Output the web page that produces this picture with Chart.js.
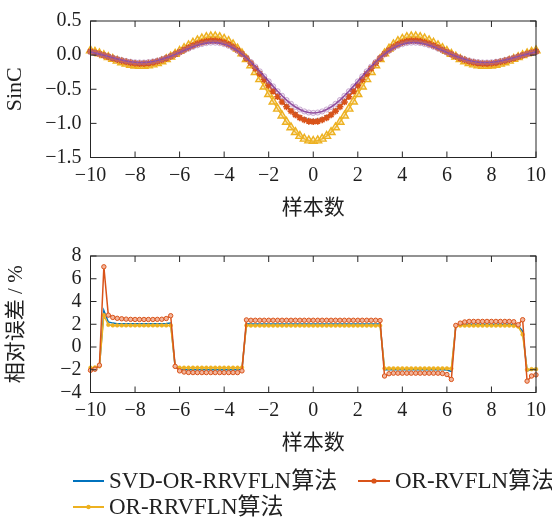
<!DOCTYPE html>
<html><head><meta charset="utf-8">
<script src="https://cdn.jsdelivr.net/npm/chart.js@4/dist/chart.umd.min.js"></script>
<style>
body{margin:0;background:#fff}
#wrap{position:relative;width:552px;height:519px;background:#fff;overflow:hidden}
canvas{position:absolute;left:0}
.lg{position:absolute;display:flex;align-items:center;white-space:nowrap;font-family:"Liberation Serif","Noto Sans CJK SC",serif;font-size:23px;line-height:26px;color:#222}
.lg svg{flex:none}
</style></head><body>
<div id="wrap">
<canvas id="c1" width="552" height="235" style="top:0"></canvas>
<canvas id="c2" width="552" height="235" style="top:235px"></canvas>
<div class="lg" style="left:73px;top:468px"><svg width="31" height="12"><line x1="0" y1="6" x2="31" y2="6" stroke="#0072BD" stroke-width="2"/></svg><span style="margin-left:5px">SVD-OR-RRVFLN算法</span></div>
<div class="lg" style="left:358px;top:468px"><svg width="32" height="12"><line x1="0" y1="6" x2="32" y2="6" stroke="#D95319" stroke-width="2"/><circle cx="16" cy="6" r="2.6" fill="#D95319"/></svg><span style="margin-left:5px">OR-RVFLN算法</span></div>
<div class="lg" style="left:73px;top:494px"><svg width="31" height="12"><line x1="0" y1="6" x2="31" y2="6" stroke="#EDB120" stroke-width="2"/><circle cx="15.5" cy="6" r="2.2" fill="#EDB120"/></svg><span style="margin-left:5px">OR-RRVFLN算法</span></div>
</div>
<script>
// sample positions
const xs = [-10,-9.8,-9.6,-9.4,-9.2,-9,-8.8,-8.6,-8.4,-8.2,-8,-7.8,-7.6,-7.4,-7.2,-7,-6.8,-6.6,-6.4,-6.2,
-6,-5.8,-5.6,-5.4,-5.2,-5,-4.8,-4.6,-4.4,-4.2,-4,-3.8,-3.6,-3.4,-3.2,-3,-2.8,-2.6,-2.4,-2.2,
-2,-1.8,-1.6,-1.4,-1.2,-1,-0.8,-0.6,-0.4,-0.2,0,0.2,0.4,0.6,0.8,1,1.2,1.4,1.6,1.8,
2,2.2,2.4,2.6,2.8,3,3.2,3.4,3.6,3.8,4,4.2,4.4,4.6,4.8,5,5.2,5.4,5.6,5.8,
6,6.2,6.4,6.6,6.8,7,7.2,7.4,7.6,7.8,8,8.2,8.4,8.6,8.8,9,9.2,9.4,9.6,9.8,10];

const xTickVals = [-10,-8,-6,-4,-2,0,2,4,6,8,10];
const sincTicks = [-1.5,-1.0,-0.5,0.0,0.5];
const errTicks = [-4,-2,0,2,4,6,8];

// top panel: SinC curves
const sincTrue = [0.046,0.032,0.015,-0.002,-0.021,-0.039,-0.056,-0.072,-0.086,-0.097,
-0.105,-0.108,-0.108,-0.103,-0.093,-0.079,-0.062,-0.040,-0.015,0.011,
0.039,0.068,0.095,0.121,0.144,0.162,0.176,0.183,0.183,0.176,
0.160,0.136,0.104,0.064,0.015,-0.040,-0.101,-0.168,-0.238,-0.311,
-0.385,-0.458,-0.529,-0.596,-0.658,-0.713,-0.760,-0.797,-0.825,-0.841,
-0.847,
-0.841,-0.825,-0.797,-0.760,-0.713,-0.658,-0.596,-0.529,-0.458,-0.385,
-0.311,-0.238,-0.168,-0.101,-0.040,0.015,0.064,0.104,0.136,0.160,
0.176,0.183,0.183,0.176,0.162,0.144,0.121,0.095,0.068,0.039,
0.011,-0.015,-0.040,-0.062,-0.079,-0.093,-0.103,-0.108,-0.108,-0.105,
-0.097,-0.086,-0.072,-0.056,-0.039,-0.021,-0.002,0.015,0.032,0.046];

const sincSVD = [0.052,0.036,0.017,-0.003,-0.023,-0.044,-0.063,-0.082,-0.097,-0.110,
-0.118,-0.122,-0.122,-0.116,-0.105,-0.090,-0.069,-0.045,-0.017,0.013,
0.044,0.076,0.108,0.137,0.162,0.183,0.198,0.206,0.207,0.198,
0.181,0.154,0.117,0.072,0.017,-0.045,-0.114,-0.189,-0.269,-0.351,
-0.434,-0.517,-0.597,-0.672,-0.742,-0.804,-0.856,-0.899,-0.930,-0.949,
-0.955,
-0.949,-0.930,-0.899,-0.856,-0.804,-0.742,-0.672,-0.597,-0.517,-0.434,
-0.351,-0.269,-0.189,-0.114,-0.045,0.017,0.072,0.117,0.154,0.181,
0.198,0.207,0.206,0.198,0.183,0.162,0.137,0.108,0.076,0.044,
0.013,-0.017,-0.045,-0.069,-0.090,-0.105,-0.116,-0.122,-0.122,-0.118,
-0.110,-0.097,-0.082,-0.063,-0.044,-0.023,-0.003,0.017,0.036,0.052];

const sincOR = [0.053,0.036,0.018,-0.003,-0.024,-0.045,-0.065,-0.083,-0.099,-0.112,
-0.121,-0.125,-0.124,-0.118,-0.107,-0.092,-0.071,-0.046,-0.018,0.013,
0.045,0.078,0.110,0.140,0.166,0.187,0.202,0.211,0.211,0.202,
0.184,0.157,0.120,0.073,0.018,-0.046,-0.117,-0.193,-0.274,-0.358,
-0.443,-0.528,-0.609,-0.686,-0.757,-0.820,-0.874,-0.918,-0.949,-0.969,
-0.975,
-0.969,-0.949,-0.918,-0.874,-0.820,-0.757,-0.686,-0.609,-0.528,-0.443,
-0.358,-0.274,-0.193,-0.117,-0.046,0.018,0.073,0.120,0.157,0.184,
0.202,0.211,0.211,0.202,0.187,0.166,0.140,0.110,0.078,0.045,
0.013,-0.018,-0.046,-0.071,-0.092,-0.107,-0.118,-0.124,-0.125,-0.121,
-0.112,-0.099,-0.083,-0.065,-0.045,-0.024,-0.003,0.018,0.036,0.053];

const sincORR = [0.069,0.047,0.023,-0.003,-0.031,-0.058,-0.084,-0.108,-0.128,-0.145,
-0.156,-0.161,-0.160,-0.153,-0.139,-0.118,-0.092,-0.059,-0.023,0.017,
0.059,0.101,0.142,0.180,0.214,0.242,0.261,0.272,0.272,0.261,
0.238,0.203,0.155,0.095,0.023,-0.059,-0.151,-0.250,-0.355,-0.463,
-0.573,-0.682,-0.787,-0.887,-0.979,-1.060,-1.130,-1.186,-1.227,-1.252,
-1.260,
-1.252,-1.227,-1.186,-1.130,-1.060,-0.979,-0.887,-0.787,-0.682,-0.573,
-0.463,-0.355,-0.250,-0.151,-0.059,0.023,0.095,0.155,0.203,0.238,
0.261,0.272,0.272,0.261,0.242,0.214,0.180,0.142,0.101,0.059,
0.017,-0.023,-0.059,-0.092,-0.118,-0.139,-0.153,-0.160,-0.161,-0.156,
-0.145,-0.128,-0.108,-0.084,-0.058,-0.031,-0.003,0.023,0.047,0.069];

// bottom panel: relative error (%)
const errSVD = [-1.90,-1.85,-1.75,3.20,2.20,2.10,2.05,2.05,2.05,2.05,
2.05,2.05,2.05,2.05,2.05,2.05,2.05,2.06,2.10,-1.75,
-1.95,-2.00,-2.00,-2.00,-2.00,-2.00,-2.00,-2.00,-2.00,-2.00,
-2.00,-2.00,-2.00,-2.00,-1.95,2.05,2.02,2.02,2.02,2.02,
2.02,2.02,2.02,2.02,2.02,2.02,2.02,2.02,2.02,2.02,
2.02,2.02,2.02,2.02,2.02,2.02,2.02,2.02,2.02,2.02,
2.02,2.02,2.02,2.02,2.02,2.02,-2.00,-2.00,-2.00,-2.00,
-2.00,-2.00,-2.00,-2.00,-2.00,-2.00,-2.00,-2.00,-2.00,-2.00,
-2.02,-2.15,1.90,1.98,2.00,2.00,2.00,2.00,2.00,2.00,
2.00,2.00,2.00,2.00,2.00,1.98,1.85,1.40,-2.10,-1.95,
-1.90];

const errOR = [-2.05,-1.95,-1.60,7.05,2.80,2.60,2.52,2.48,2.45,2.43,
2.42,2.42,2.42,2.42,2.42,2.43,2.44,2.50,2.75,-1.70,
-2.10,-2.20,-2.24,-2.25,-2.25,-2.25,-2.25,-2.25,-2.25,-2.25,
-2.25,-2.25,-2.25,-2.25,-2.10,2.38,2.35,2.35,2.35,2.35,
2.35,2.35,2.35,2.35,2.35,2.35,2.35,2.35,2.35,2.35,
2.35,2.35,2.35,2.35,2.35,2.35,2.35,2.35,2.35,2.35,
2.35,2.35,2.35,2.35,2.35,2.33,-2.55,-2.35,-2.30,-2.30,
-2.30,-2.30,-2.30,-2.30,-2.30,-2.30,-2.30,-2.30,-2.30,-2.33,
-2.42,-2.85,1.90,2.10,2.20,2.25,2.25,2.25,2.25,2.25,
2.25,2.25,2.25,2.25,2.25,2.22,1.95,2.40,-3.00,-2.55,
-2.45];

const errORR = [-1.82,-1.80,-1.70,2.80,1.95,1.90,1.90,1.90,1.90,1.90,
1.90,1.90,1.90,1.90,1.90,1.90,1.90,1.90,1.90,-1.70,
-1.82,-1.82,-1.82,-1.82,-1.82,-1.82,-1.82,-1.82,-1.82,-1.82,
-1.82,-1.82,-1.82,-1.82,-1.80,1.90,1.88,1.88,1.88,1.88,
1.88,1.88,1.88,1.88,1.88,1.88,1.88,1.88,1.88,1.88,
1.88,1.88,1.88,1.88,1.88,1.88,1.88,1.88,1.88,1.88,
1.88,1.88,1.88,1.88,1.88,1.88,-1.88,-1.88,-1.88,-1.88,
-1.88,-1.88,-1.88,-1.88,-1.88,-1.88,-1.88,-1.88,-1.88,-1.88,
-1.88,-1.90,1.85,1.88,1.88,1.88,1.88,1.88,1.88,1.88,
1.88,1.88,1.88,1.88,1.88,1.86,1.80,1.10,-2.00,-1.95,
-1.95];

const pts = ys => xs.map((x, i) => ({x, y: ys[i]}));
const minus = s => String(s).replace('-', '\u2212');
const SERIF = "'Liberation Serif','Noto Sans CJK SC',serif";
const TXT = '#1f1f1f';

const frameTicks = {
  id: 'frameTicks',
  afterDatasetsDraw(chart) {
    const {ctx, chartArea: a, scales: {x, y}} = chart;
    ctx.save();
    ctx.strokeStyle = '#262626';
    ctx.lineWidth = 1;
    ctx.beginPath();
    x.ticks.forEach(t => {
      const p = x.getPixelForValue(t.value);
      ctx.moveTo(p, a.bottom); ctx.lineTo(p, a.bottom - 6);
      ctx.moveTo(p, a.top); ctx.lineTo(p, a.top + 6);
    });
    y.ticks.forEach(t => {
      const p = y.getPixelForValue(t.value);
      ctx.moveTo(a.left, p); ctx.lineTo(a.left + 6, p);
      ctx.moveTo(a.right, p); ctx.lineTo(a.right - 6, p);
    });
    ctx.stroke();
    ctx.strokeRect(a.left, a.top, a.right - a.left, a.bottom - a.top);
    ctx.restore();
  }
};

function makeOptions(yMin, yMax, yTickVals, yTitle, yTitleFont, yTitlePad, yFmt) {
  return {
    responsive: false, animation: false, devicePixelRatio: 1,
    layout: {padding: {left: 0, right: 13.5, top: 14.5, bottom: 0}},
    plugins: {legend: {display: false}, tooltip: {enabled: false}},
    scales: {
      x: {
        type: 'linear', min: -10, max: 10,
        grid: {display: false, drawTicks: false}, border: {display: false},
        afterBuildTicks: s => { s.ticks = xTickVals.map(v => ({value: v})); },
        afterFit: s => { s.height = 77.5; },
        ticks: {autoSkip: false, padding: 6, color: TXT, font: {family: SERIF, size: 20}, maxRotation: 0,
          callback: v => minus(v)},
        title: {display: true, text: '样本数', color: TXT, font: {family: SERIF, size: 21},
          padding: {top: 0, bottom: 14.4}}
      },
      y: {
        type: 'linear', min: yMin, max: yMax,
        grid: {display: false, drawTicks: false}, border: {display: false},
        afterBuildTicks: s => { s.ticks = yTickVals.map(v => ({value: v})); },
        afterFit: s => { s.width = 90.5; },
        ticks: {autoSkip: false, padding: 9, color: TXT, font: {family: SERIF, size: 20}, callback: yFmt},
        title: {display: true, text: yTitle, color: TXT, font: {family: SERIF, size: yTitleFont},
          padding: {top: yTitlePad, bottom: 0}}
      }
    }
  };
}

new Chart(document.getElementById('c1'), {
  type: 'line',
  data: {datasets: [
    {label: '真实值', data: pts(sincTrue), order: 0, borderColor: '#7E2F8E', borderWidth: 1.6,
      pointStyle: 'circle', pointRadius: 2.6, pointBorderWidth: 1,
      pointBorderColor: 'rgba(150,90,165,0.45)', pointBackgroundColor: 'rgba(200,170,210,0.25)', clip: 6},
    {label: 'OR-RVFLN算法', data: pts(sincOR), order: 1, borderColor: '#D95319', borderWidth: 1.5,
      pointStyle: 'star', pointRadius: 3.4, pointBorderWidth: 1.6,
      pointBorderColor: '#D95319', pointBackgroundColor: '#D95319', clip: 6},
    {label: 'SVD-OR-RRVFLN算法', data: pts(sincSVD), order: 2, borderColor: '#0072BD', borderWidth: 1,
      pointStyle: 'crossRot', pointRadius: 2, pointBorderWidth: 1,
      pointBorderColor: '#0072BD', clip: 6},
    {label: 'OR-RRVFLN算法', data: pts(sincORR), order: 3, borderColor: '#EDB120', borderWidth: 1.5,
      pointStyle: 'triangle', pointRadius: 4.6, pointBorderWidth: 1.4,
      pointBorderColor: '#EDB120', pointBackgroundColor: 'rgba(240,195,90,0.35)', clip: 6}
  ]},
  options: makeOptions(-1.5, 0.5, sincTicks, 'SinC', 22, 2, v => minus(Number(v).toFixed(1))),
  plugins: [frameTicks]
});

new Chart(document.getElementById('c2'), {
  type: 'line',
  data: {datasets: [
    {label: 'OR-RVFLN算法', data: pts(errOR), order: 0, borderColor: '#D95319', borderWidth: 1.5,
      pointStyle: 'circle', pointRadius: 2.2, pointBorderWidth: 1,
      pointBorderColor: '#D95319', pointBackgroundColor: '#F2B59C', clip: 6},
    {label: 'OR-RRVFLN算法', data: pts(errORR), order: 1, borderColor: '#EDB120', borderWidth: 1.5,
      pointStyle: 'circle', pointRadius: 1.9, pointBorderWidth: 0.5,
      pointBorderColor: '#EDB120', pointBackgroundColor: '#EDB120', clip: 6},
    {label: 'SVD-OR-RRVFLN算法', data: pts(errSVD), order: 2, borderColor: '#0072BD', borderWidth: 1.5,
      pointRadius: 0, clip: 6}
  ]},
  options: makeOptions(-4, 8, errTicks, '相对误差 / %', 21, 4, v => minus(v)),
  plugins: [frameTicks]
});
</script>
</body></html>
